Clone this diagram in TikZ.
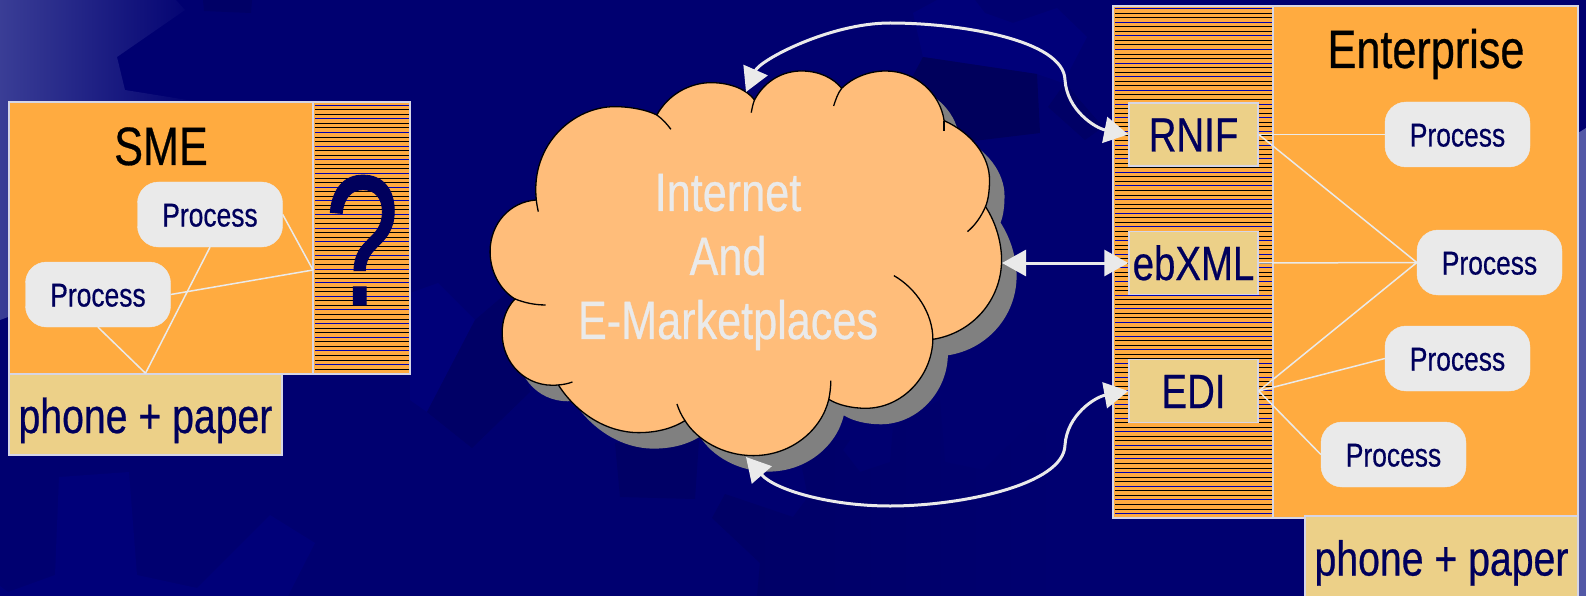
\documentclass[tikz,border=0pt]{standalone}
\usepackage{fontspec}
\setmainfont[FakeStretch=0.8,FakeBold=0.5]{Liberation Sans}
\usetikzlibrary{arrows.meta}

\definecolor{navy}{HTML}{000070}
\definecolor{navydark}{HTML}{000066}
\definecolor{navylight}{HTML}{000079}
\definecolor{inkblue}{HTML}{00005C}
\definecolor{hatchblue}{HTML}{0000B0}
\definecolor{boxorange}{HTML}{FFAB40}
\definecolor{boxtan}{HTML}{ECD088}
\definecolor{cloudorange}{HTML}{FFBD7A}
\definecolor{softgray}{HTML}{EAEAEA}
\definecolor{framegray}{HTML}{D6D6E6}
\definecolor{stripgray}{HTML}{5358A6}

\tikzset{
    panel/.style={rectangle,draw=framegray,line width=1.5pt,inner sep=0pt},
    orangebox/.style={panel,fill=boxorange},
    tanbox/.style={panel,fill=boxtan,text=inkblue},
    phonebox/.style={tanbox,font=\fontsize{49}{49}\selectfont,text height=45pt,text depth=8pt},
    protocol/.style={tanbox,minimum width=129pt,minimum height=63pt,font=\fontsize{48}{48}\selectfont,text height=40pt,text depth=6pt},
    process/.style={rectangle,rounded corners=21pt,fill=softgray,draw=softgray,text=inkblue,inner sep=0pt,
        minimum width=145pt,minimum height=65pt,font=\fontsize{33}{33}\selectfont,text height=28pt,text depth=4pt},
    heading/.style={anchor=base,font=\fontsize{54}{54}\selectfont},
    link/.style={draw=softgray,line width=1.5pt},
    pipe/.style={draw=softgray,line width=3pt,{Triangle[length=24pt,width=26pt]}-{Triangle[length=24pt,width=26pt]}}
}

\newcommand{\stripes}[4]{
    \foreach \k in {1,...,#4} {
        \pgfmathtruncatemacro{\m}{mod(\k,3)}
        \pgfmathsetmacro{\yy}{round(#3+4.55*\k)+0.5}
        \ifnum\m=1 \def\c{hatchblue}\else\def\c{black}\fi
        \draw[color=\c,line width=0.85pt] (#1,\yy) -- (#2,\yy);
    }
}

\newcommand{\cloudpath}{
    (165,600) .. controls (150,430) and (260,320) .. (360,320) .. controls (400,320) and (440,330) .. (465,345)
    .. controls (495,280) and (550,248) .. (600,248) .. controls (650,248) and (690,270) .. (708,300)
    .. controls (735,240) and (780,213) .. (825,213) .. controls (870,213) and (905,235) .. (925,265)
    .. controls (950,235) and (990,213) .. (1035,213) .. controls (1110,213) and (1170,280) .. (1180,362)
    .. controls (1250,400) and (1293,470) .. (1293,540) .. controls (1293,570) and (1290,600) .. (1283,620)
    .. controls (1310,670) and (1323,730) .. (1323,780) .. controls (1323,900) and (1250,1000) .. (1152,1018)
    .. controls (1150,1130) and (1075,1225) .. (985,1225) .. controls (950,1225) and (915,1215) .. (893,1198)
    .. controls (875,1290) and (800,1367) .. (705,1367) .. controls (630,1367) and (565,1320) .. (535,1262)
    .. controls (505,1285) and (465,1298) .. (420,1298) .. controls (340,1298) and (265,1240) .. (220,1155)
    .. controls (140,1165) and (80,1090) .. (80,1000) .. controls (80,960) and (90,925) .. (112,897)
    .. controls (75,870) and (50,815) .. (50,755) .. controls (50,670) and (100,605) .. (165,600) -- cycle
}

\begin{document}
\begin{tikzpicture}[x=1pt,y=-1pt]
    \useasboundingbox (0,0) rectangle (1586,596);
    \fill[navy] (0,0) rectangle (1586,596);

    % backdrop
    \shade[left color=stripgray!70!navy,right color=navy] (0,0) -- (176,0) -- (185,10) -- (117,57) -- (125,90) -- (200,102) -- (8,317) -- (0,320) -- cycle;
    \fill[stripgray] (1578,133) -- (1586,128) -- (1586,596) -- (1578,596) -- cycle;
    \fill[navydark] (203,0) -- (252,0) -- (251,13) -- (204,11) -- cycle;
    \fill[navylight] (913,13) -- (937,0) -- (975,0) -- (985,13) -- (1013,23) -- (1057,8) -- (1087,37) -- (1063,83) -- (1037,74) -- (923,57) -- cycle;
    \fill[navydark!90!black] (923,57) -- (1037,74) -- (1040,133) -- (940,145) -- (900,100) -- cycle;
    \fill[navydark] (1048,107) -- (1065,83) -- (1103,127) -- (1085,140) -- cycle;
    \fill[navylight] (410,293) -- (438,283) -- (475,320) -- (427,412) -- (410,400) -- cycle;
    \fill[navydark] (475,320) -- (510,290) -- (530,392) -- (472,448) -- (427,412) -- cycle;
    \fill[navylight] (59,477) -- (129,472) -- (137,575) -- (197,588) -- (270,515) -- (315,543) -- (288,596) -- (0,596) -- (0,586) -- (8,592) -- (55,575) -- cycle;
    \fill[navydark] (615,443) -- (699,440) -- (695,499) -- (620,497) -- cycle;
    \shade[left color=navydark,right color=navy] (712,518) -- (725,494) -- (793,517) -- (808,497) -- (802,468) -- (810,440) -- (850,440) -- (843,450) -- (860,472) -- (890,462) -- (893,427) -- (940,400) -- (945,462) -- (983,470) -- (1033,422) -- (1063,437) -- (1063,596) -- (757,596) -- (760,563) -- cycle;

    % cloud
    \begin{scope}[shift={(485,16)},x=0.4018pt,y=-0.3333pt]
        \fill[gray] \cloudpath;
    \end{scope}
    \begin{scope}[shift={(470,0)},x=0.4018pt,y=-0.3333pt]
        \filldraw[fill=cloudorange,draw=black,line width=1.3pt] \cloudpath;
        \draw[line width=1.3pt] (465,345) .. controls (480,358) and (490,372) .. (500,388);
        \draw[line width=1.3pt] (708,300) .. controls (704,312) and (702,325) .. (700,338);
        \draw[line width=1.3pt] (925,265) .. controls (915,280) and (910,300) .. (905,318);
        \draw[line width=1.3pt] (1180,362) -- (1180,392);
        \draw[line width=1.3pt] (1283,620) .. controls (1272,650) and (1258,675) .. (1238,695);
        \draw[line width=1.3pt] (1055,827) .. controls (1110,865) and (1152,940) .. (1152,1018);
        \draw[line width=1.3pt] (893,1198) .. controls (896,1180) and (898,1160) .. (898,1142);
        \draw[line width=1.3pt] (535,1262) .. controls (526,1246) and (520,1230) .. (515,1212);
        \draw[line width=1.3pt] (220,1155) .. controls (232,1154) and (244,1151) .. (255,1146);
        \draw[line width=1.3pt] (112,897) .. controls (135,908) and (160,915) .. (188,915);
        \draw[line width=1.3pt] (165,600) .. controls (166,612) and (168,624) .. (170,635);
    \end{scope}
    \node[text=softgray,align=center,font=\fontsize{54}{64}\selectfont] (NET) at (728,262) {Internet\\And\\E-Marketplaces};
    \coordinate (CT) at (746,92);
    \coordinate (CR) at (1002,263);
    \coordinate (CB) at (746,457);

    % SME side
    \node[orangebox,minimum width=304pt,minimum height=272pt] (SMEBOX) at (161,238) {};
    \node[orangebox,minimum width=97pt,minimum height=272pt] (SMEHATCH) at (361.5,238) {};
    \stripes{315}{409}{100.15}{59}
    \node[phonebox,minimum width=273pt,minimum height=81pt] (SMEPHONE) at (145.5,414.5) {phone + paper};
    \node[heading] (SME) at (161,165) {SME};
    \node[anchor=base,text=inkblue,xscale=0.9,transform shape,font=\fontsize{186}{186}\selectfont] (ASK) at (362,305) {?};
    \node[process] (PB) at (210,214.5) {Process};
    \node[process] (PC) at (98,294.5) {Process};
    \coordinate (HQ) at (313,270);
    \draw[link] (PB.east) -- (HQ);
    \draw[link] (PC.east) -- (HQ);
    \draw[link] (PB.south) -- (SMEPHONE.north);
    \draw[link] (PC.south) -- (SMEPHONE.north);

    % Enterprise side
    \node[orangebox,minimum width=160pt,minimum height=512pt] (ENTHATCH) at (1193,262) {};
    \stripes{1115}{1272}{3.45}{112}
    \node[orangebox,minimum width=305pt,minimum height=512pt] (ENTBOX) at (1425.5,262) {};
    \node[phonebox,minimum width=273pt,minimum height=82pt] (ENTPHONE) at (1441.5,557) {phone + paper};
    \node[heading] (ENT) at (1426,68) {Enterprise};
    \node[protocol] (RNIF) at (1193.5,134.5) {RNIF};
    \node[protocol] (EBXML) at (1193.5,263) {ebXML};
    \node[protocol] (EDI) at (1193.5,391) {EDI};
    \node[process] (PD) at (1457.5,134.5) {Process};
    \node[process] (PE) at (1489.5,262.5) {Process};
    \node[process] (PF) at (1457.5,358.5) {Process};
    \node[process] (PG) at (1393.5,454.5) {Process};
    \draw[link] (RNIF.east) -- (PD.west);
    \draw[link] (RNIF.east) -- (PE.west);
    \draw[link] (EBXML.east) -- (PE.west);
    \draw[link] (EDI.east) -- (PE.west);
    \draw[link] (EDI.east) -- (PF.west);
    \draw[link] (EDI.east) -- (PG.west);

    % cloud links
    \draw[pipe] (RNIF.west) .. controls (1095,128) and (1067,110) .. (1065,80) .. controls (1064,40) and (960,23) .. (890,23) .. controls (830,23) and (760,60) .. (CT);
    \draw[pipe] (EBXML.west) -- (CR);
    \draw[pipe] (EDI.west) .. controls (1095,397) and (1067,415) .. (1065,445) .. controls (1064,485) and (960,506) .. (890,506) .. controls (830,506) and (775,490) .. (CB);
\end{tikzpicture}
\end{document}
